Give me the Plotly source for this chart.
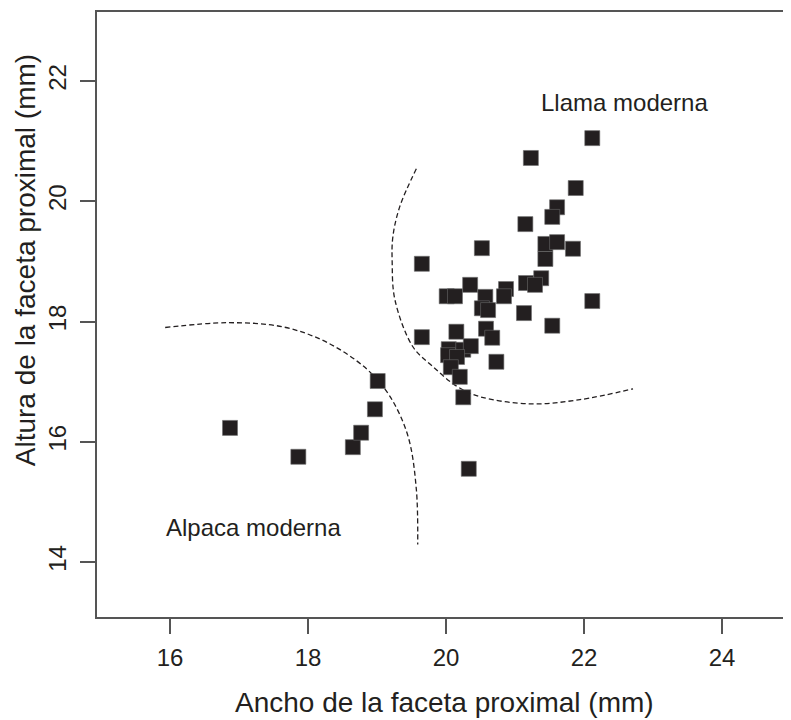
import plotly.graph_objects as go

# Data
llama_x = [22.12, 21.23, 21.88, 21.61, 21.54, 21.15, 20.52, 21.44, 21.61, 21.84,
           21.44, 19.65, 20.35, 21.16, 21.38, 21.29, 20.01, 20.13, 20.87, 20.84,
           20.57, 20.52, 20.61, 22.12, 21.13, 21.54, 19.65, 20.15, 20.58, 20.67,
           20.04, 20.03, 20.25, 20.36, 20.16, 20.07, 20.20, 20.73, 20.25, 20.33]
llama_y = [21.05, 20.72, 20.22, 19.90, 19.74, 19.62, 19.22, 19.29, 19.32, 19.21,
           19.04, 18.96, 18.61, 18.64, 18.72, 18.61, 18.42, 18.42, 18.54, 18.42,
           18.41, 18.22, 18.19, 18.34, 18.14, 17.93, 17.74, 17.83, 17.88, 17.73,
           17.54, 17.44, 17.53, 17.59, 17.41, 17.24, 17.08, 17.33, 16.74, 15.55]

alpaca_x = [16.87, 17.86, 18.65, 18.77, 18.97, 19.01]
alpaca_y = [16.23, 15.75, 15.91, 16.15, 16.54, 17.01]

# Dashed boundary curves
alpaca_curve_x = [15.93, 16.83, 17.64, 18.28, 18.86, 19.19, 19.45, 19.57, 19.59]
alpaca_curve_y = [17.90, 17.98, 17.91, 17.65, 17.20, 16.75, 16.09, 15.21, 14.29]
llama_curve_x = [19.57, 19.33, 19.23, 19.22, 19.26, 19.52, 19.81, 20.16, 20.49, 21.22, 21.94, 22.71]
llama_curve_y = [20.54, 19.91, 19.41, 18.98, 18.36, 17.58, 17.25, 16.92, 16.75, 16.63, 16.70, 16.88]

x_ticks = [16, 18, 20, 22, 24]
y_ticks = [14, 16, 18, 20, 22]

labels = ["Llama moderna", "Alpaca moderna"]
label_x = [22.59, 17.21]
label_y = [21.65, 14.58]

x_title = "Ancho de la faceta proximal (mm)"
y_title = "Altura de la faceta proximal (mm)"

INK = "#231f20"
AXC = "#555555"
FONT = "Liberation Sans, Arial, sans-serif"

fig = go.Figure()
fig.add_trace(go.Scatter(x=alpaca_curve_x, y=alpaca_curve_y, mode="lines",
                         line=dict(color=INK, width=1.3, dash="5px,3px", shape="spline"),
                         hoverinfo="skip", showlegend=False))
fig.add_trace(go.Scatter(x=llama_curve_x, y=llama_curve_y, mode="lines",
                         line=dict(color=INK, width=1.3, dash="5px,3px", shape="spline"),
                         hoverinfo="skip", showlegend=False))
fig.add_trace(go.Scatter(x=llama_x, y=llama_y, mode="markers",
                         marker=dict(symbol="square", size=15, color=INK,
                                     line=dict(color="#6a6a6a", width=0.6)),
                         name="Llama", showlegend=False))
fig.add_trace(go.Scatter(x=alpaca_x, y=alpaca_y, mode="markers",
                         marker=dict(symbol="square", size=15, color=INK,
                                     line=dict(color="#6a6a6a", width=0.6)),
                         name="Alpaca", showlegend=False))

for t, lx, ly in zip(labels, label_x, label_y):
    fig.add_annotation(x=lx, y=ly, text=t, showarrow=False,
                       font=dict(family=FONT, size=24, color=INK),
                       xanchor="center", yanchor="middle")

fig.add_annotation(x=0.5, y=-0.142, xref="paper", yref="paper", text=x_title,
                   showarrow=False, xanchor="center", yanchor="middle",
                   font=dict(family=FONT, size=28, color=INK))
fig.add_annotation(x=-0.1037, y=19.02, xref="paper", yref="y", text=y_title,
                   showarrow=False, xanchor="center", yanchor="middle", textangle=-90,
                   font=dict(family=FONT, size=28, color=INK))

# page body has an 8px margin, so the figure is sized/offset to compensate
fig.update_layout(
    width=783, height=712,
    margin=dict(l=89, r=0, t=4, b=103),
    plot_bgcolor="white", paper_bgcolor="white",
    font=dict(family=FONT, color=INK),
)
fig.update_xaxes(range=[14.942, 25.0], tickmode="array", tickvals=x_ticks,
                 ticktext=[str(v) for v in x_ticks],
                 showgrid=False, zeroline=False, showline=True, mirror=True,
                 linecolor=AXC, linewidth=1.5, ticks="outside", ticklen=15,
                 tickcolor=AXC, tickwidth=1.5, ticklabelstandoff=3,
                 tickfont=dict(family=FONT, size=24, color=INK))
fig.update_yaxes(range=[13.085, 23.148], tickmode="array", tickvals=y_ticks,
                 ticktext=[str(v) for v in y_ticks],
                 showgrid=False, zeroline=False, showline=True, mirror=False,
                 linecolor=AXC, linewidth=1.5, ticks="outside", ticklen=15,
                 tickcolor=AXC, tickwidth=1.5, tickangle=-90, ticklabelstandoff=5,
                 tickfont=dict(family=FONT, size=24, color=INK))

fig.write_html("out.html")
